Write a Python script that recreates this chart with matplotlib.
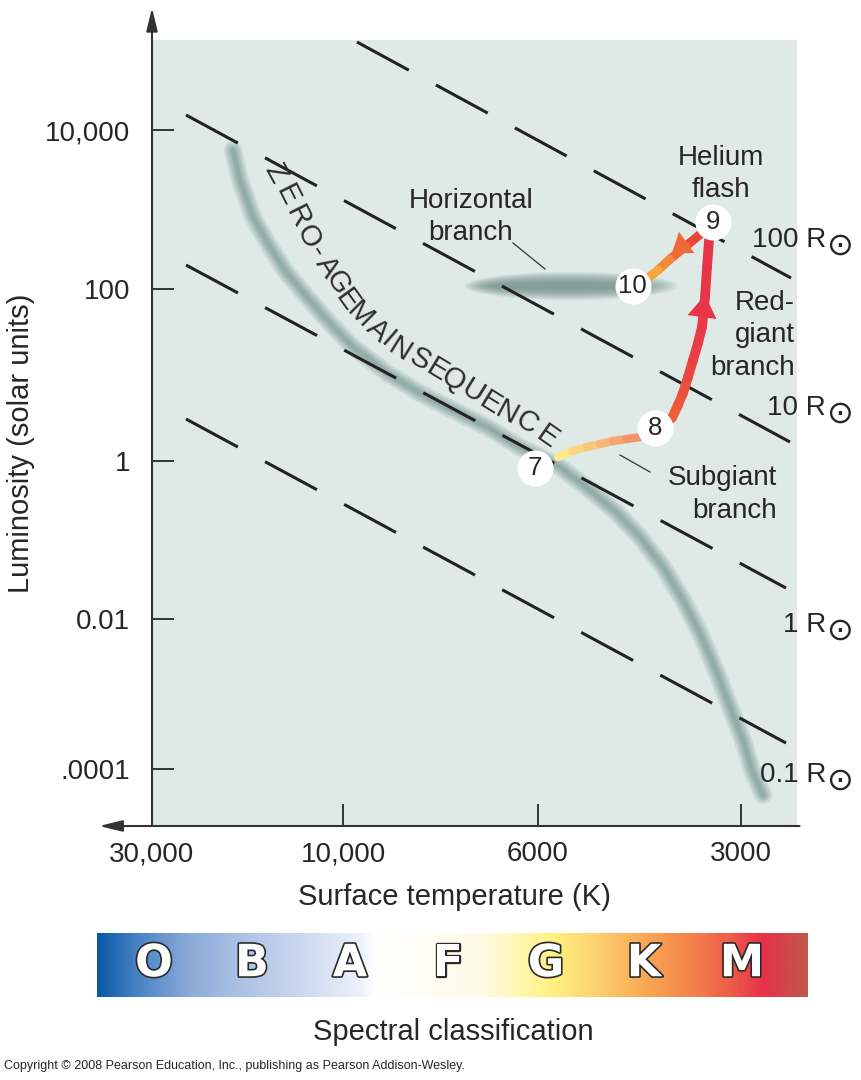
import numpy as np
import matplotlib
matplotlib.use("Agg")
import matplotlib.pyplot as plt
import matplotlib.patheffects as pe
from matplotlib.collections import LineCollection
from matplotlib.colors import LinearSegmentedColormap
from matplotlib.patches import FancyArrowPatch, Ellipse
from matplotlib.transforms import IdentityTransform
from matplotlib.lines import Line2D

plt.rcParams["font.family"] = ["Liberation Sans", "DejaVu Sans"]

# ---------------- data (temperature in K, luminosity in solar units) ----------------
T_TICKS = [30000, 10000, 6000, 3000]
T_TICK_LABELS = ["30,000", "10,000", "6000", "3000"]
L_TICKS = [1e4, 1e2, 1, 1e-2, 1e-4]
L_TICK_LABELS = ["10,000", "100", "1", "0.01", ".0001"]

# zero-age main sequence band
ZAMS_T = [18830, 18080, 16780, 15220, 13800, 12300, 10780, 9742, 8911, 8174, 7498, 6859,
          6291, 5566, 5024, 4581, 4235, 3915, 3657, 3451, 3256, 3115, 2980, 2880, 2782]
ZAMS_L = [5603, 2350, 805, 337.6, 158.9, 80.7, 40.2, 21.2, 10.55, 6.17, 3.92, 2.49,
          1.455, 0.839, 0.4295, 0.2197, 0.1091, 0.0455, 0.0174, 0.00651, 0.001905,
          6.71e-4, 2.435e-4, 8.84e-5, 4.5e-5]

# evolutionary stages of a 1 solar-mass star
STAGE_LABELS = ["7", "8", "9", "10"]
STAGE_T = [6050, 4020, 3300, 4340]
STAGE_L = [0.82, 2.42, 696, 109]

SUBGIANT_T = [5603, 5342, 5076, 4856, 4644, 4427, 4235]
SUBGIANT_L = [1.113, 1.307, 1.455, 1.576, 1.708, 1.803, 1.902]
REDGIANT_T = [3797, 3720, 3657, 3595, 3534, 3474, 3427, 3392, 3369, 3346]
REDGIANT_L = [3.16, 4.48, 6.17, 9.48, 14.9, 23.6, 36.2, 80.7, 189, 413]
FLASH_T = [3416, 3620, 3823, 3983, 4122]
FLASH_L = [521, 347, 238, 173, 137.5]

# arrow heads (base, tip)
REDGIANT_ARROW_T = [3427, 3392]
REDGIANT_ARROW_L = [47.3, 85.1]
FLASH_ARROW_T = [3620, 3797]
FLASH_ARROW_L = [379, 284]

# horizontal branch extent
HB_T = [7265, 3733]
HB_L = 109

# lines of constant radius (start, end)
RADIUS_LABELS = ["100", "10", "1", "0.1"]
RADIUS_T0 = [9640, 24670, 24670, 24670]
RADIUS_L0 = [1.279e5, 15440, 200.4, 3.079]
RADIUS_T1 = [2529, 2538, 2573, 2573]
RADIUS_L1 = [137.5, 1.6635, 0.02469, 2.222e-4]

SPECTRAL_CLASSES = ["O", "B", "A", "F", "G", "K", "M"]

# ---------------- schematic scales (tick values are not evenly spaced in log) ----------------
X_SPACING = [0, 191, 386, 589]          # spacing of T_TICKS along the axis
Y_SPACING = [0, 159, 331, 489, 639]     # spacing of L_TICKS along the axis


def piecewise_log(vals, spacing):
    lv = np.log10(vals)[::-1]
    pos = -np.asarray(spacing, float)[::-1]
    s_lo = (pos[1] - pos[0]) / (lv[1] - lv[0])
    s_hi = (pos[-1] - pos[-2]) / (lv[-1] - lv[-2])

    def fwd(v):
        l = np.log10(np.clip(np.asarray(v, float), 1e-300, None))
        out = np.interp(l, lv, pos)
        out = np.where(l < lv[0], pos[0] + (l - lv[0]) * s_lo, out)
        return np.where(l > lv[-1], pos[-1] + (l - lv[-1]) * s_hi, out)

    def inv(p):
        p = np.asarray(p, float)
        l = np.interp(p, pos, lv)
        l = np.where(p < pos[0], lv[0] + (p - pos[0]) / s_lo, l)
        l = np.where(p > pos[-1], lv[-1] + (p - pos[-1]) / s_hi, l)
        return 10 ** l

    return fwd, inv


W, H = 861, 1080


def fx(x):
    return x / W


def fy(y):
    return 1 - y / H


TXT = "#262626"
fig = plt.figure(figsize=(8.61, 10.8), dpi=100)
ax = fig.add_axes([fx(152), fy(826), 645 / W, 786 / H])
ax.set_facecolor("#dfe9e6")
ax.set_xscale("function", functions=piecewise_log(T_TICKS, X_SPACING))
ax.set_yscale("function", functions=piecewise_log(L_TICKS, Y_SPACING))
ax.set_xlim(30000, 2478)
ax.set_ylim(1.738e-5, 1.356e5)

ax.set_xticks(T_TICKS, T_TICK_LABELS)
ax.set_yticks(L_TICKS, L_TICK_LABELS)
ax.minorticks_off()
ax.tick_params(direction="in", length=15.8, width=1.4, color="#333333",
               labelsize=20, labelcolor=TXT)
ax.tick_params(axis="y", pad=15.5)
ax.tick_params(axis="x", pad=11)
for s in ax.spines.values():
    s.set_visible(False)

# axis lines with arrows
for a, b in [((0, 0), (0, 1.041)), ((1.004, 0), (-0.082, 0))]:
    ax.add_patch(FancyArrowPatch(a, b, transform=ax.transAxes, clip_on=False,
                                 arrowstyle="-|>,head_length=14,head_width=3.4",
                                 mutation_scale=1, lw=1.5, color="#333333",
                                 shrinkA=0, shrinkB=0, zorder=10))

# main sequence band (soft, layered)
for lw in [13, 10, 7.5, 5, 3]:
    ax.plot(ZAMS_T, ZAMS_L, color="#58807a", lw=lw, alpha=0.15,
            solid_capstyle="round", solid_joinstyle="round", zorder=2)

# horizontal branch blob
fig.canvas.draw()
x0, yc = ax.transData.transform((HB_T[0], HB_L))
x1, _ = ax.transData.transform((HB_T[1], HB_L))
for i in range(10):
    f = i / 9
    ax.add_patch(Ellipse(((x0 + x1) / 2 - 6 * f, yc), (x1 - x0) * (1 - 0.3 * f),
                         28 * (1 - 0.75 * f), transform=IdentityTransform(),
                         color="#5f817c", alpha=0.11, lw=0, zorder=2))

# dashed lines of constant radius
for t0, l0, t1, l1 in zip(RADIUS_T0, RADIUS_L0, RADIUS_T1, RADIUS_L1):
    ax.plot([t0, t1], [l0, l1], color="#222222", lw=2.2, dashes=(19.3, 10.1),
            solid_capstyle="butt", zorder=3)


def gradient_path(t, l, colors, lw):
    pts = np.column_stack([t, l])
    segs = np.stack([pts[:-1], pts[1:]], axis=1)
    cmap = LinearSegmentedColormap.from_list("p", colors)
    lc = LineCollection(segs, colors=cmap(np.linspace(0, 1, len(segs))), linewidths=lw,
                        capstyle="round", joinstyle="round", zorder=4)
    ax.add_collection(lc)


gradient_path(SUBGIANT_T, SUBGIANT_L, ["#fce98a", "#f7bf78", "#f2936a"], 6.0)
gradient_path(REDGIANT_T, REDGIANT_L, ["#ef5f3a", "#ea3e45", "#e8334a"], 7.0)
gradient_path(FLASH_T, FLASH_L, ["#e9463a", "#f07a35", "#f8a63e"], 6.5)


def head(t, l, color, length, half_width):
    ax.add_patch(FancyArrowPatch((t[0], l[0]), (t[1], l[1]),
                                 arrowstyle=f"-|>,head_length={length},head_width={half_width}",
                                 mutation_scale=1, lw=0, color=color,
                                 shrinkA=0, shrinkB=0, zorder=5))


head(REDGIANT_ARROW_T, REDGIANT_ARROW_L, "#e8354a", 16, 10.5)
head(FLASH_ARROW_T, FLASH_ARROW_L, "#ee6a36", 13, 9.5)

# stage markers
ax.plot(STAGE_T, STAGE_L, "o", ms=25, mfc="white", mec="white", zorder=6)
for lab, t, l in zip(STAGE_LABELS, STAGE_T, STAGE_L):
    ax.text(t, l, lab, ha="center", va="center", fontsize=18.5, color=TXT, zorder=7)

# ---------------- annotations ----------------
fig.text(fx(21), fy(443), "Luminosity (solar units)", rotation=90, ha="center",
         va="center", fontsize=21, color=TXT)
fig.text(fx(454), fy(905), "Surface temperature (K)", ha="center", va="baseline",
         fontsize=21, color=TXT)
fig.text(fx(453), fy(1040), "Spectral classification", ha="center", va="baseline",
         fontsize=21, color=TXT)
fig.text(fx(4), fy(1069), "Copyright \u00a9 2008 Pearson Education, Inc., publishing as "
         "Pearson Addison-Wesley.", ha="left", va="baseline", fontsize=9, color=TXT)


def lines(x, ys, words, ha):
    for y, w in zip(ys, words):
        fig.text(fx(x), fy(y), w, ha=ha, va="baseline", fontsize=20, color=TXT, zorder=8)


lines(471, [208, 240], ["Horizontal", "branch"], "center")
lines(721, [165, 197], ["Helium", "flash"], "center")
lines(795, [310, 342, 375], ["Red-", "giant", "branch"], "right")
lines(777, [485, 518], ["Subgiant", "branch"], "right")

for (xa, ya), (xb, yb) in [((513, 243), (545, 269)), ((620, 455), (650, 472))]:
    fig.add_artist(Line2D([fx(xa), fx(xb)], [fy(ya), fy(yb)], lw=0.9, color="#333333"))

for lab, yb in zip(RADIUS_LABELS, [247, 415, 632, 782]):
    fig.text(fx(826), fy(yb), f"{lab} R", ha="right", va="baseline", fontsize=20, color=TXT)
    fig.text(fx(840), fy(yb - 1), "\u2299", ha="center", va="center", fontsize=23,
             color=TXT, family="DejaVu Sans")

# curved "ZERO-AGE MAIN SEQUENCE" label
zams_chars = list("ZERO-AGEMAINSEQUENCE")
cx = np.array([275, 287, 297, 308, 317, 327, 337, 347, 360, 377, 388, 400,
               420, 437, 453, 473, 490, 507, 527, 547], float)
cy = np.array([173, 195, 217, 237, 252, 267, 283, 300, 315, 330, 340, 350,
               360, 370, 380, 392, 403, 413, 423, 437], float)
ang = -np.degrees(np.arctan2(np.gradient(cy), np.gradient(cx)))
for ch, x, y, a in zip(zams_chars, cx, cy, ang):
    fig.text(fx(x), fy(y), ch, rotation=a, rotation_mode="anchor", ha="center",
             va="center", fontsize=21, color="#2e2e2e")

# ---------------- spectral classification bar ----------------
bar = fig.add_axes([fx(97), fy(997), 711 / W, 64 / H])
spec = LinearSegmentedColormap.from_list("spec", [
    (0.0, "#0b5aa8"), (0.06, "#4f86c6"), (0.127, "#8aaad8"), (0.192, "#a8bfe4"),
    (0.257, "#c0d0ec"), (0.32, "#d8e2f3"), (0.372, "#eef2fa"), (0.39, "#ffffff"),
    (0.54, "#fffbe6"), (0.61, "#fff5a0"), (0.645, "#fff07e"), (0.705, "#fdd070"),
    (0.77, "#f9a955"), (0.835, "#f4844a"), (0.895, "#ee5a48"), (0.94, "#e8304a"),
    (1.0, "#c0584a")])
bar.imshow(np.linspace(0, 1, 600)[None, :], cmap=spec, aspect="auto", extent=[0, 1, 0, 1])
bar.set_xlim(0, 1)
bar.set_ylim(0, 1)
bar.set_axis_off()
for k, cls in enumerate(SPECTRAL_CLASSES):
    bar.text((154 + 98 * k - 97) / 711, 0.52, cls, ha="center", va="center",
             fontsize=32, fontweight="bold", color="white", family="DejaVu Sans",
             path_effects=[pe.withStroke(linewidth=2.4, foreground="#2a2a2a")])

fig.savefig("out.png", dpi=100)
